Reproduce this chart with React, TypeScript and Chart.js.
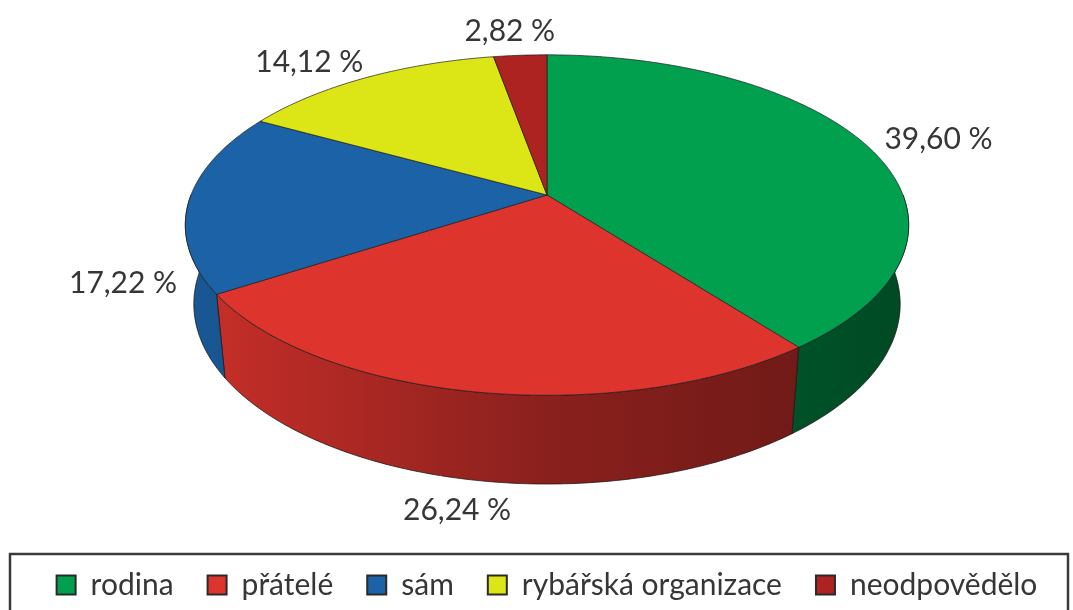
import React, { useEffect, useRef } from 'react';
import { Chart, registerables } from 'chart.js';

Chart.register(...registerables);

// ---- data ----
const categories = ['rodina', 'přátelé', 'sám', 'rybářská organizace', 'neodpovědělo'];
const shares = [39.6, 26.24, 17.22, 14.12, 2.82];
const sliceColors = ['#00A04F', '#DE342E', '#1B62A6', '#DCE515', '#AD2321'];

// ---- style / layout ----
const FONT = 'Lato, "Open Sans", sans-serif';
const TEXT_COLOR = '#363636';
const VIEW = {
  apexY: 195, // vertical position of the pie centre inside the chart area
  rx: 356, // half width of the projected disc
  dist: 5.02, // camera distance (in disc radii)
  tilt: 27.6, // degrees
  depth: 0.253, // thickness of the disc (in radii)
  labelR: 1.05,
};

function shade(hex: string, f: number): string {
  const n = parseInt(hex.slice(1), 16);
  const r = Math.round(((n >> 16) & 255) * f);
  const g = Math.round(((n >> 8) & 255) * f);
  const b = Math.round((n & 255) * f);
  return `rgb(${r},${g},${b})`;
}

function makeProjector(cx: number, cy: number) {
  const s = Math.sin((VIEW.tilt * Math.PI) / 180);
  const c = Math.cos((VIEW.tilt * Math.PI) / 180);
  const F = VIEW.rx * VIEW.dist;
  return (X: number, Y: number, Z: number): [number, number] => {
    const yc = Y * c + Z * s;
    const zc = -Y * s + Z * c;
    const w = VIEW.dist + zc;
    return [cx + (F * X) / w, cy - (F * yc) / w];
  };
}

function geometry(chart: any) {
  const meta = chart.getDatasetMeta(0);
  const arcs = meta.data as any[];
  const cx = arcs.length ? arcs[0].x : (chart.chartArea.left + chart.chartArea.right) / 2;
  const cy = chart.chartArea.top + VIEW.apexY;
  return { arcs, cx, cy, P: makeProjector(cx, cy) };
}

const pie3d = {
  id: 'pie3d',
  beforeDatasetsDraw(chart: any) {
    const { arcs, cx, P } = geometry(chart);
    const ctx: CanvasRenderingContext2D = chart.ctx;
    const H = VIEW.depth;
    ctx.save();
    ctx.lineJoin = 'round';
    // side walls (front half only)
    arcs.forEach((el: any, i: number) => {
      const a0 = el.startAngle;
      const a1 = el.endAngle;
      const lo = Math.max(a0, 0);
      const hi = Math.min(a1, Math.PI);
      if (hi <= lo) return;
      const N = Math.max(8, Math.ceil((hi - lo) * 80));
      ctx.beginPath();
      for (let k = 0; k <= N; k++) {
        const t = lo + ((hi - lo) * k) / N;
        const [x, y] = P(Math.cos(t), 0, -Math.sin(t));
        if (k === 0) ctx.moveTo(x, y);
        else ctx.lineTo(x, y);
      }
      for (let k = N; k >= 0; k--) {
        const t = lo + ((hi - lo) * k) / N;
        const [x, y] = P(Math.cos(t), -H, -Math.sin(t));
        ctx.lineTo(x, y);
      }
      ctx.closePath();
      const col = sliceColors[i];
      const g = ctx.createLinearGradient(cx - VIEW.rx, 0, cx + VIEW.rx, 0);
      g.addColorStop(0, shade(col, 0.9));
      g.addColorStop(0.5, shade(col, 0.62));
      g.addColorStop(1, shade(col, 0.46));
      ctx.fillStyle = g;
      ctx.fill();
      ctx.strokeStyle = 'rgba(30,20,20,0.75)';
      ctx.lineWidth = 1;
      ctx.stroke();
    });
    // top face
    arcs.forEach((el: any, i: number) => {
      const a0 = el.startAngle;
      const a1 = el.endAngle;
      const N = Math.max(8, Math.ceil((a1 - a0) * 80));
      ctx.beginPath();
      const [ax, ay] = P(0, 0, 0);
      ctx.moveTo(ax, ay);
      for (let k = 0; k <= N; k++) {
        const t = a0 + ((a1 - a0) * k) / N;
        const [x, y] = P(Math.cos(t), 0, -Math.sin(t));
        ctx.lineTo(x, y);
      }
      ctx.closePath();
      ctx.fillStyle = sliceColors[i];
      ctx.fill();
      ctx.strokeStyle = 'rgba(30,30,30,0.7)';
      ctx.lineWidth = 1;
      ctx.stroke();
    });
    ctx.restore();
    return false;
  },
  afterDraw(chart: any) {
    const { arcs, P } = geometry(chart);
    const ctx: CanvasRenderingContext2D = chart.ctx;
    const [ax, ay] = P(0, 0, 0);
    ctx.save();
    ctx.font = `30px ${FONT}`;
    ctx.fillStyle = TEXT_COLOR;
    ctx.textAlign = 'center';
    ctx.textBaseline = 'middle';
    arcs.forEach((el: any, i: number) => {
      const m = (el.startAngle + el.endAngle) / 2;
      const X = VIEW.labelR * Math.cos(m);
      const Z = -VIEW.labelR * Math.sin(m);
      const [px, py] = P(X, Z < 0 ? -VIEW.depth : 0, Z);
      let dx = px - ax;
      let dy = py - ay;
      const len = Math.hypot(dx, dy) || 1;
      dx /= len;
      dy /= len;
      const text = shares[i].toFixed(2).replace('.', ',') + ' %';
      const halfW = ctx.measureText(text).width / 2;
      ctx.fillText(text, px + dx * (halfW + 4), py + dy * 18);
    });
    // legend frame
    const lg = chart.legend;
    if (lg) {
      ctx.strokeStyle = '#3a3a3a';
      ctx.lineWidth = 2.5;
      ctx.strokeRect(10, lg.top + 18, 1058, 100);
    }
    ctx.restore();
  },
};

export default function App() {
  const ref = useRef<HTMLCanvasElement | null>(null);
  useEffect(() => {
    if (!ref.current) return;
    const baseGen = (Chart as any).overrides.pie.plugins.legend.labels.generateLabels;
    const chart = new Chart(ref.current, {
      type: 'pie',
      data: {
        labels: categories,
        datasets: [
          {
            data: shares,
            backgroundColor: sliceColors,
            borderColor: '#2a2a2a',
            borderWidth: 1,
          },
        ],
      },
      options: {
        responsive: false,
        animation: false,
        layout: { padding: { left: 21 } },
        plugins: {
          tooltip: { enabled: false },
          legend: {
            position: 'bottom',
            labels: {
              font: { family: FONT, size: 30 },
              color: TEXT_COLOR,
              boxWidth: 19,
              boxHeight: 19,
              padding: 34,
              generateLabels: (c: any) =>
                baseGen(c).map((l: any) => ({ ...l, strokeStyle: '#2a2a2a', lineWidth: 2 })),
            },
          },
        },
      },
      plugins: [pie3d],
    } as any);
    return () => chart.destroy();
  }, []);
  return (
    <div style={{ position: 'fixed', left: 0, top: 0, width: 1073, height: 610, background: '#fff' }}>
      <canvas ref={ref} width={1073} height={610} style={{ display: 'block' }} />
    </div>
  );
}
